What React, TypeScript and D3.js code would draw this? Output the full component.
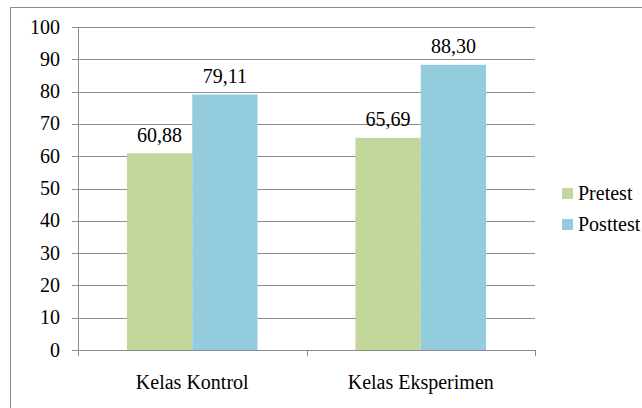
import React, { useEffect, useRef } from "react";
import * as d3 from "d3";

const categories = ["Kelas Kontrol", "Kelas Eksperimen"];
const seriesNames = ["Pretest", "Posttest"];
const pretest = [60.88, 65.69];
const posttest = [79.11, 88.3];
const valueLabels = [["60,88", "65,69"], ["79,11", "88,30"]];
const yTicks = [0, 10, 20, 30, 40, 50, 60, 70, 80, 90, 100];
const colors = ["#C3D69B", "#93CDDD"];

const W = 642, H = 408;
const plot = { left: 78, right: 535, top: 27, bottom: 350 };
const FONT = "Liberation Serif";
const FS = 20;

export default function App() {
  const ref = useRef<SVGSVGElement | null>(null);
  useEffect(() => {
    const svg = d3.select(ref.current);
    svg.selectAll("*").remove();
    const x0 = d3.scaleBand<string>().domain(categories).range([plot.left, plot.right]).paddingInner(0).paddingOuter(0);
    const x1 = d3.scaleBand<string>().domain(seriesNames).range([0, x0.bandwidth()]).paddingInner(0).paddingOuter(0.75);
    const y = d3.scaleLinear().domain([0, 100]).range([plot.bottom, plot.top]);
    const series = [pretest, posttest];

    svg.append("rect").attr("x", 10.5).attr("y", 7.5).attr("width", 700).attr("height", 500)
      .attr("fill", "#fff").attr("stroke", "#8a8a8a");

    svg.append("g").selectAll("line").data(yTicks).join("line")
      .attr("x1", plot.left - 6).attr("x2", plot.right)
      .attr("y1", (d) => Math.round(y(d)) + 0.5).attr("y2", (d) => Math.round(y(d)) + 0.5)
      .attr("stroke", "#8c8c8c");

    svg.append("line").attr("x1", plot.left + 0.5).attr("x2", plot.left + 0.5)
      .attr("y1", plot.top).attr("y2", plot.bottom + 6).attr("stroke", "#8c8c8c");

    const tickXs = [...categories.map((c) => x0(c) as number), plot.right];
    svg.append("g").selectAll("line").data(tickXs).join("line")
      .attr("x1", (d) => Math.round(d) + 0.5).attr("x2", (d) => Math.round(d) + 0.5)
      .attr("y1", plot.bottom).attr("y2", plot.bottom + 6).attr("stroke", "#8c8c8c");

    series.forEach((s, si) => {
      svg.append("g").selectAll("rect").data(categories).join("rect")
        .attr("x", (c) => (x0(c) as number) + (x1(seriesNames[si]) as number))
        .attr("y", (c, ci) => y(s[ci]))
        .attr("width", x1.bandwidth())
        .attr("height", (c, ci) => plot.bottom - y(s[ci]))
        .attr("fill", colors[si]);
    });

    const txt = (g: any) => g.attr("font-family", FONT).attr("font-size", FS).attr("fill", "#000");

    svg.append("g").selectAll("text").data(yTicks).join("text")
      .call(txt)
      .attr("x", 60).attr("y", (d) => y(d) + 6.5).attr("text-anchor", "end").text((d) => String(d));

    series.forEach((s, si) => {
      svg.append("g").selectAll("text").data(categories).join("text")
        .call(txt)
        .attr("x", (c) => (x0(c) as number) + (x1(seriesNames[si]) as number) + x1.bandwidth() / 2)
        .attr("y", (c, ci) => y(s[ci]) - 11.5)
        .attr("text-anchor", "middle")
        .text((c, ci) => valueLabels[si][ci]);
    });

    svg.append("g").selectAll("text").data(categories).join("text")
      .call(txt)
      .attr("x", (c) => (x0(c) as number) + x0.bandwidth() / 2).attr("y", 389)
      .attr("text-anchor", "middle").text((c) => c);

    const lg = svg.append("g");
    lg.selectAll("rect").data(seriesNames).join("rect")
      .attr("x", 562).attr("y", (d, i) => 188 + i * 31).attr("width", 11).attr("height", 11)
      .attr("fill", (d, i) => colors[i]);
    lg.selectAll("text").data(seriesNames).join("text")
      .call(txt)
      .attr("x", 578).attr("y", (d, i) => 200 + i * 31).text((d) => d);
  }, []);
  return <svg ref={ref} width={W} height={H} style={{ position: "absolute", left: 0, top: 0 }} />;
}
